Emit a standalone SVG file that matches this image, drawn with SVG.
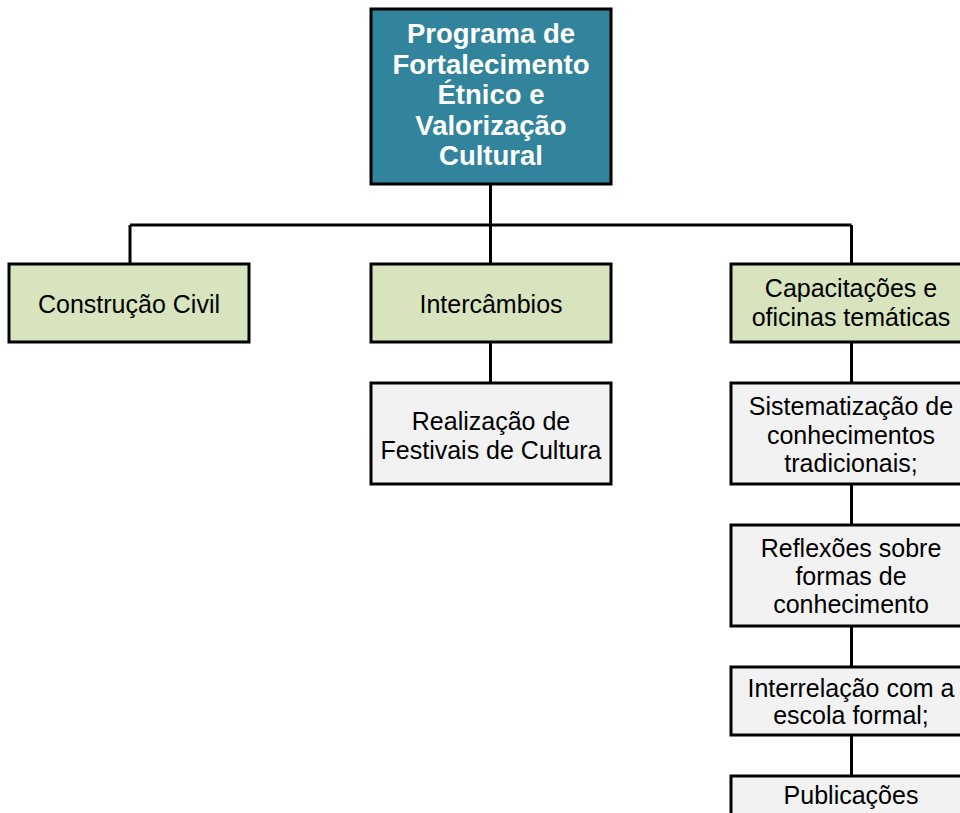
<svg xmlns="http://www.w3.org/2000/svg" width="960" height="813" viewBox="0 0 960 813">
<style>
.box{stroke:#000;stroke-width:3}
.root{fill:#31849B}
.l2{fill:#D7E4BD}
.l3{fill:#F2F2F2}
.t{font-family:"Liberation Sans",Arial,sans-serif;font-size:25px;fill:#000;text-anchor:middle}
.tb{font-family:"Liberation Sans",Arial,sans-serif;font-size:27.5px;font-weight:bold;fill:#fff;text-anchor:middle}
.c{fill:none;stroke:#000;stroke-width:3}
</style>
<rect width="960" height="813" fill="#fff"/>
<g id="connectors">
<path class="c" d="M490.5 184V225M130 225H851.5M130 225V264M490.5 225V264M851.5 225V264"/>
<path class="c" d="M490.5 342V383M851.5 342V383M851.5 484V525M851.5 626V667M851.5 735V776"/>
</g>
<g id="root">
<rect class="box root" x="371" y="9" width="240" height="175"/>
<text class="tb" x="491" y="43">Programa de</text>
<text class="tb" x="491" y="74">Fortalecimento</text>
<text class="tb" x="491" y="104">Étnico e</text>
<text class="tb" x="491" y="135">Valorização</text>
<text class="tb" x="491" y="165">Cultural</text>
</g>
<g id="construcao">
<rect class="box l2" x="9" y="264" width="240" height="78"/>
<text class="t" x="129" y="312.5">Construção Civil</text>
</g>
<g id="intercambios">
<rect class="box l2" x="371" y="264" width="240" height="78"/>
<text class="t" x="491" y="312.5">Intercâmbios</text>
</g>
<g id="capacitacoes">
<rect class="box l2" x="731" y="264" width="240" height="78"/>
<text class="t" x="851" y="297">Capacitações e</text>
<text class="t" x="851" y="326">oficinas temáticas</text>
</g>
<g id="realizacao">
<rect class="box l3" x="371" y="383" width="240" height="101"/>
<text class="t" x="491" y="429.5">Realização de</text>
<text class="t" x="491" y="458.5">Festivais de Cultura</text>
</g>
<g id="sistematizacao">
<rect class="box l3" x="731" y="383" width="240" height="101"/>
<text class="t" x="851" y="415">Sistematização de</text>
<text class="t" x="851" y="443.5">conhecimentos</text>
<text class="t" x="851" y="472">tradicionais;</text>
</g>
<g id="reflexoes">
<rect class="box l3" x="731" y="525" width="240" height="101"/>
<text class="t" x="851" y="557">Reflexões sobre</text>
<text class="t" x="851" y="585">formas de</text>
<text class="t" x="851" y="613">conhecimento</text>
</g>
<g id="interrelacao">
<rect class="box l3" x="731" y="667" width="240" height="68"/>
<text class="t" x="851" y="697">Interrelação com a</text>
<text class="t" x="851" y="724">escola formal;</text>
</g>
<g id="publicacoes">
<rect class="box l3" x="731" y="776" width="240" height="60"/>
<text class="t" x="851" y="804">Publicações</text>
</g>
</svg>
